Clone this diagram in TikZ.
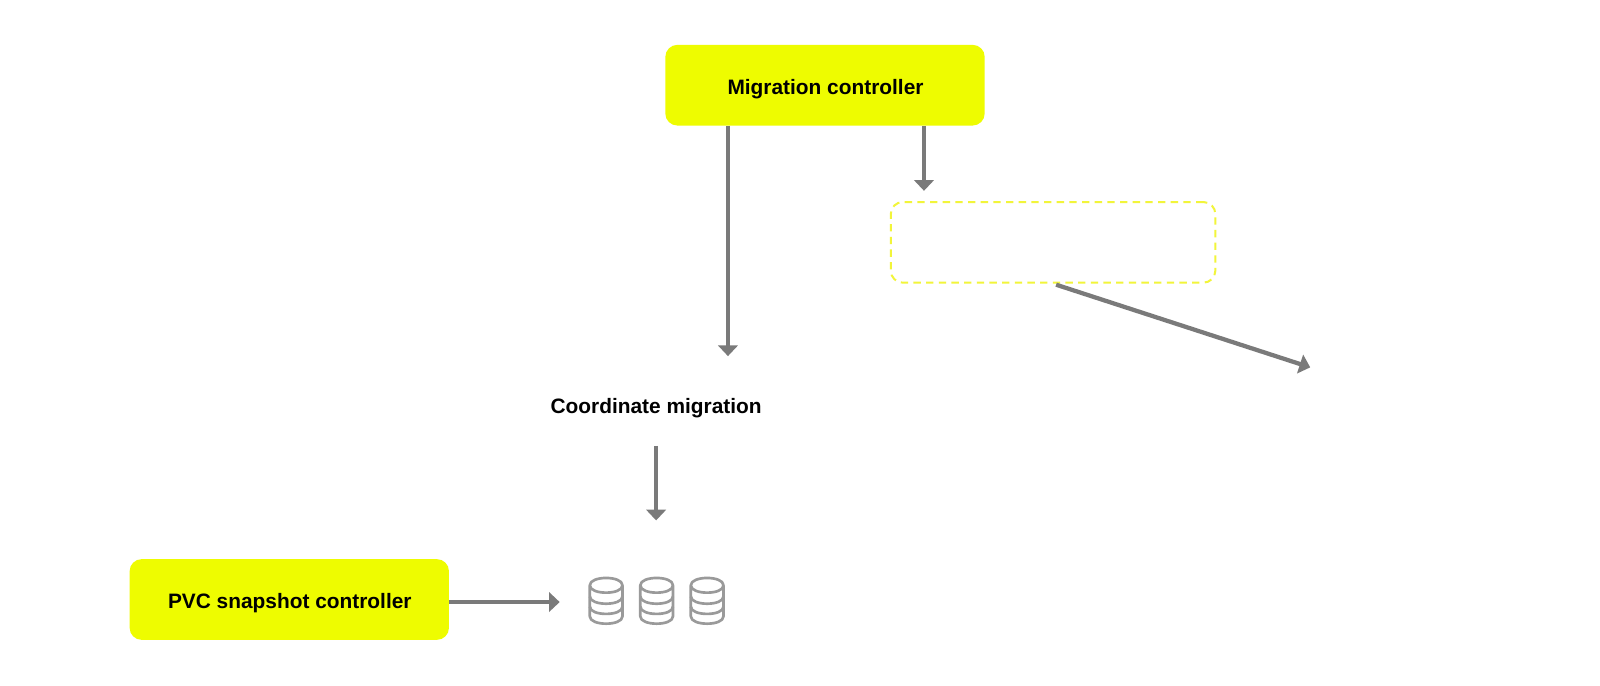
\documentclass[tikz,border=0pt]{standalone}
\usepackage{fontspec}
\setmainfont{Liberation Sans}
\usetikzlibrary{arrows.meta,calc}
\definecolor{lime}{HTML}{EEFC00}
\definecolor{dashlime}{HTML}{F2F53A}
\definecolor{conn}{HTML}{7A7A7A}
\definecolor{dbgray}{HTML}{9A9A9A}
\tikzset{
  px/.style={x=0.7653pt,y=-0.7653pt},
  solidbox/.style={fill=lime,rounded corners=9pt,inner sep=0pt,minimum width=239.5pt,minimum height=60.5pt},
  ghostbox/.style={draw=dashlime,line width=1.5pt,dash pattern=on 5.5pt off 4pt,rounded corners=9pt,inner sep=0pt,minimum width=243.4pt,minimum height=60.5pt},
  lbl/.style={font=\bfseries\fontsize{15.65pt}{18pt}\selectfont,text=black,inner sep=0pt},
  conn/.style={draw=conn,line width=3.2pt,-{Triangle[length=8pt,width=14.5pt]}},
  dbline/.style={draw=dbgray,line width=2pt},
}
\newcommand{\dbicon}[1]{%
  \begin{scope}[shift={(#1,0)}]
    \draw[dbline,line join=round] (578,573.6) .. controls (578,564) and (610,564) .. (610,573.6) .. controls (610,583.2) and (578,583.2) .. (578,573.6) -- (578,604) .. controls (578,613.6) and (610,613.6) .. (610,604) -- (610,573.6);
    \draw[dbline] (578,584.5) .. controls (578,594) and (610,594) .. (610,584.5);
    \draw[dbline] (578,594.5) .. controls (578,604) and (610,604) .. (610,594.5);
  \end{scope}}
\begin{document}
\begin{tikzpicture}[px]
\useasboundingbox (0,0) rectangle (1568,671.3);
\fill[white] (0,0) rectangle (1568,671.3);
\node[solidbox] (mc) at (808.5,83.5) {};
\node[lbl] (mct) at (809,87) {Migration controller};
\node[solidbox] (pvc) at (283.5,587.5) {};
\node[lbl] (pvct) at (284,591) {PVC snapshot controller};
\node[ghostbox] (gb) at (1032,237.5) {};
\node[lbl] (cm) at (643,399.5) {Coordinate migration};
\coordinate (a1s) at (mc.south -| 713.4,0);
\coordinate (a1e) at (713.4,349);
\coordinate (a2s) at (mc.south -| 905.5,0);
\coordinate (a2e) at (905.5,187);
\coordinate (a3s) at ($(gb.south)+(3,1)$);
\coordinate (a3e) at (1284,360);
\coordinate (a4s) at (643,437);
\coordinate (a4e) at (643,510);
\coordinate (a5e) at (548.5,590);
\draw[conn] (a1s) -- (a1e);
\draw[conn] (a2s) -- (a2e);
\draw[conn] (a3s) -- (a3e);
\draw[conn] (a4s) -- (a4e);
\draw[conn] (pvc.east |- a5e) -- (a5e);
\dbicon{0}
\dbicon{49.5}
\dbicon{99}
\end{tikzpicture}
\end{document}
